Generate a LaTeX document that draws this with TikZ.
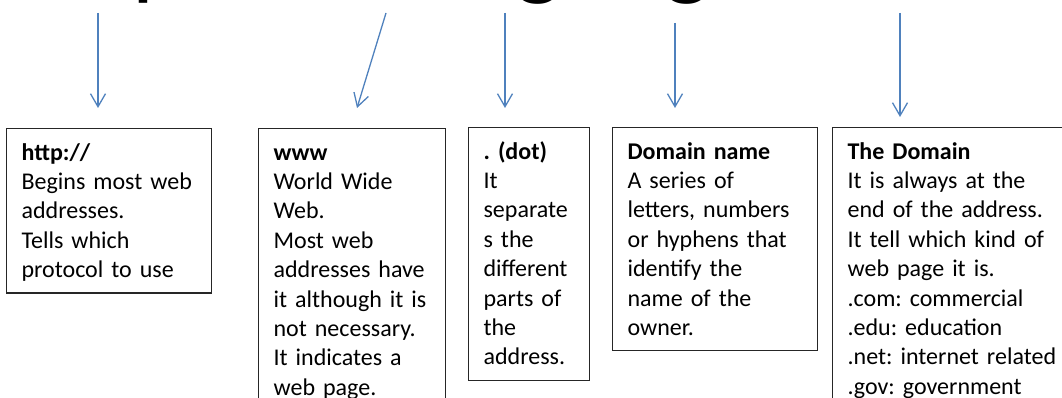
\documentclass[tikz,border=0pt]{standalone}
\usepackage{fontspec}
\setmainfont{Carlito}
\usepackage{xcolor}
\usetikzlibrary{arrows.meta}
\definecolor{flecha}{HTML}{4F81BD}
\frenchspacing

\begin{document}
\begin{tikzpicture}[x=1pt, y=-1pt, >={Straight Barb[length=13pt,width=15pt]},
        box/.style={draw=black!85, line width=1.2pt, anchor=north west, align=left,
            inner xsep=15pt, inner ysep=6.5pt, font=\fontsize{24}{29.4}\selectfont,
            execute at begin node=\rule{0pt}{25pt}, execute at end node=\strut},
        arrow/.style={->, draw=flecha, line width=1.3pt}]
        \useasboundingbox (0,0) rectangle (1062,398);
        \clip (0,0) rectangle (1062,398);

        % Direccion (cortada arriba)
        \node[anchor=base west, inner sep=0pt, font=\fontsize{98}{100}\selectfont\addfontfeatures{Ligatures=NoCommon}] (U) at (17,-12) {http://www.google.com};

        % Cajas
        \node[box, text width=175pt] (P) at (6,128) {\textbf{http://}\\Begins most web\\addresses.\\Tells which\\protocol to use};
        \node[box, text width=157pt] (W) at (258,128) {\textbf{www}\\World Wide\\Web.\\Most web\\addresses have\\it although it is\\not necessary.\\It indicates a\\web page.};
        \node[box, text width=91pt] (D) at (468,127) {\textbf{. (dot)}\\It\\separate\\s the\\different\\parts of\\the\\address.};
        \node[box, text width=175pt] (N) at (612,127) {\textbf{Domain name}\\A series of\\letters, numbers\\or hyphens that\\identify the\\name of the\\owner.};
        \node[box, text width=230pt] (T) at (832,127) {\textbf{The Domain}\\It is always at the\\end of the address.\\It tell which kind of\\web page it is.\\.com: commercial\\.edu: education\\.net: internet related\\.gov: government};

        % Flechas
        \coordinate (P1) at (98,13);
        \coordinate (P2) at (98,108);
        \coordinate (W1) at (386,13);
        \coordinate (W2) at (357,108);
        \coordinate (D1) at (505,13);
        \coordinate (D2) at (505,108);
        \coordinate (N1) at (675,23);
        \coordinate (N2) at (675,108);
        \coordinate (T1) at (900,13);
        \coordinate (T2) at (900,117);
        \draw[arrow] (P1) -- (P2);
        \draw[arrow] (W1) -- (W2);
        \draw[arrow] (D1) -- (D2);
        \draw[arrow] (N1) -- (N2);
        \draw[arrow] (T1) -- (T2);
\end{tikzpicture}
\end{document}
